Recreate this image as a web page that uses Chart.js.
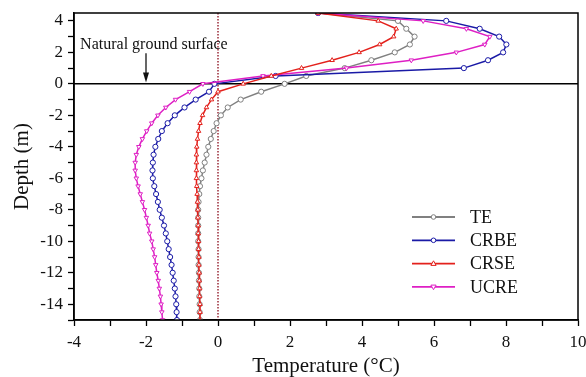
<!DOCTYPE html>
<html>
<head>
<meta charset="utf-8">
<script src="https://cdn.jsdelivr.net/npm/chart.js@4"></script>
<style>
  body { margin: 0; background: #fff; }
  #wrap { width: 586px; height: 377px; }
</style>
</head>
<body>
<div id="wrap"><canvas id="chart" width="586" height="377"></canvas></div>
<script>
// depth of each sample (m)
const depth = [4.5, 4, 3.5, 3, 2.5, 2, 1.5, 1, 0.5, 0,
  -0.5, -1, -1.5, -2, -2.5, -3, -3.5, -4, -4.5, -5,
  -5.5, -6, -6.5, -7, -7.5, -8, -8.5, -9, -9.5, -10,
  -10.5, -11, -11.5, -12, -12.5, -13, -13.5, -14, -14.5, -15];

// temperatures (°C) for each series
const te = [2.78, 5.0, 5.23, 5.46, 5.33, 4.91, 4.26, 3.52, 2.45, 1.85,
  1.2, 0.63, 0.27, 0.08, -0.04, -0.12, -0.2, -0.27, -0.32, -0.37,
  -0.42, -0.46, -0.5, -0.52, -0.54, -0.55, -0.55, -0.55, -0.55, -0.55,
  -0.54, -0.54, -0.54, -0.53, -0.53, -0.52, -0.52, -0.51, -0.51, -0.5];
const crbe = [2.78, 6.34, 7.27, 7.81, 8.01, 7.92, 7.5, 6.83, 1.6, -0.1,
  -0.25, -0.62, -0.93, -1.2, -1.4, -1.56, -1.66, -1.74, -1.79, -1.81,
  -1.82, -1.81, -1.77, -1.72, -1.67, -1.62, -1.56, -1.5, -1.45, -1.41,
  -1.37, -1.33, -1.29, -1.26, -1.23, -1.2, -1.18, -1.16, -1.15, -1.14];
const crse = [2.78, 4.45, 4.95, 4.88, 4.49, 3.92, 3.17, 2.32, 1.48, 0.7,
  0.0, -0.18, -0.32, -0.43, -0.5, -0.54, -0.57, -0.59, -0.6, -0.6,
  -0.6, -0.6, -0.59, -0.58, -0.57, -0.56, -0.56, -0.55, -0.55, -0.54,
  -0.54, -0.53, -0.53, -0.52, -0.52, -0.51, -0.51, -0.5, -0.5, -0.5];
const ucre = [2.78, 5.7, 6.9, 7.55, 7.41, 6.62, 5.37, 3.57, 1.25, -0.42,
  -0.79, -1.18, -1.45, -1.67, -1.84, -1.98, -2.1, -2.2, -2.27, -2.3,
  -2.3, -2.27, -2.22, -2.16, -2.1, -2.04, -1.99, -1.94, -1.9, -1.84,
  -1.8, -1.76, -1.73, -1.7, -1.66, -1.63, -1.6, -1.58, -1.56, -1.54];

const seriesNames = ["TE", "CRBE", "CRSE", "UCRE"];
const xTicksShown = [-4, -2, 0, 2, 4, 6, 8, 10];
const yTicksShown = [4, 2, 0, -2, -4, -6, -8, -10, -12, -14];

const SERIF = "'Liberation Serif', 'Times New Roman', serif";

function pts(temps) {
  return temps.map((t, i) => ({ x: t, y: depth[i] }));
}

const styles = [
  { color: "#808080", point: "circle", rot: 0, order: 4 },
  { color: "#1a1aa6", point: "circle", rot: 0, order: 3 },
  { color: "#e3211c", point: "triangle", rot: 0, order: 1 },
  { color: "#de1fc4", point: "triangle", rot: 180, order: 2 }
];

const datasets = [te, crbe, crse, ucre].map((arr, i) => ({
  label: seriesNames[i],
  data: pts(arr),
  showLine: true,
  order: styles[i].order,
  borderColor: styles[i].color,
  borderWidth: 1.5,
  backgroundColor: "#fff",
  pointStyle: styles[i].point,
  pointRotation: styles[i].rot,
  pointRadius: 2.6,
  pointBorderWidth: 1,
  pointBorderColor: styles[i].color,
  pointBackgroundColor: "#fff"
}));

// frame, reference lines, annotation and legend
const decor = {
  id: "decor",
  beforeDatasetsDraw(chart) {
    const { ctx, chartArea: a, scales: { x, y } } = chart;
    ctx.save();
    // horizontal line at depth 0
    const y0 = y.getPixelForValue(0);
    ctx.strokeStyle = "#000";
    ctx.lineWidth = 1.5;
    ctx.beginPath();
    ctx.moveTo(a.left, y0);
    ctx.lineTo(a.right, y0);
    ctx.stroke();
    // dotted line at 0 °C
    const x0 = x.getPixelForValue(0);
    ctx.strokeStyle = "#8b0a1a";
    ctx.lineWidth = 1.3;
    ctx.setLineDash([1.5, 1.5]);
    ctx.beginPath();
    ctx.moveTo(x0, a.top);
    ctx.lineTo(x0, a.bottom);
    ctx.stroke();
    ctx.restore();
  },
  afterDraw(chart) {
    const { ctx, chartArea: a, scales: { x, y } } = chart;
    ctx.save();
    ctx.strokeStyle = "#000";
    ctx.lineWidth = 1.5;
    ctx.strokeRect(a.left, a.top, a.right - a.left, a.bottom - a.top);

    // annotation
    ctx.fillStyle = "#111";
    ctx.font = "16px " + SERIF;
    ctx.textBaseline = "middle";
    ctx.textAlign = "left";
    ctx.fillText("Natural ground surface", x.getPixelForValue(-3.83), y.getPixelForValue(2.5));
    const ax = x.getPixelForValue(-2);
    const ay1 = y.getPixelForValue(1.94);
    const ay2 = y.getPixelForValue(0.08);
    ctx.lineWidth = 1.2;
    ctx.beginPath();
    ctx.moveTo(ax, ay1);
    ctx.lineTo(ax, ay2 - 8);
    ctx.stroke();
    ctx.beginPath();
    ctx.moveTo(ax - 3, ay2 - 10);
    ctx.lineTo(ax + 3, ay2 - 10);
    ctx.lineTo(ax, ay2);
    ctx.closePath();
    ctx.fill();

    // legend
    chart.data.datasets.forEach((ds, i) => {
      const ly = a.bottom - 103 + i * 23.3;
      const lx1 = a.right - 166, lx2 = a.right - 123;
      ctx.strokeStyle = ds.borderColor;
      ctx.lineWidth = 1.8;
      ctx.beginPath();
      ctx.moveTo(lx1, ly);
      ctx.lineTo(lx2, ly);
      ctx.stroke();
      const cx = (lx1 + lx2) / 2;
      ctx.fillStyle = "#fff";
      ctx.lineWidth = 1;
      ctx.beginPath();
      if (ds.pointStyle === "circle") {
        ctx.arc(cx, ly, 2.3, 0, Math.PI * 2);
      } else {
        const s = ds.pointRotation ? -1 : 1;
        ctx.moveTo(cx, ly - 2.8 * s);
        ctx.lineTo(cx + 2.6, ly + 1.8 * s);
        ctx.lineTo(cx - 2.6, ly + 1.8 * s);
        ctx.closePath();
      }
      ctx.fill();
      ctx.stroke();
      ctx.fillStyle = "#111";
      ctx.font = "18px " + SERIF;
      ctx.textAlign = "left";
      ctx.textBaseline = "middle";
      ctx.fillText(ds.label, a.right - 108, ly + 1);
    });
    ctx.restore();
  }
};

new Chart(document.getElementById("chart").getContext("2d"), {
  type: "scatter",
  data: { datasets: datasets },
  plugins: [decor],
  options: {
    responsive: false,
    animation: false,
    layout: { padding: { top: 13, right: 8, left: 0, bottom: 0 } },
    plugins: {
      legend: { display: false },
      tooltip: { enabled: false }
    },
    scales: {
      x: {
        type: "linear",
        min: -4,
        max: 10,
        afterFit(scale) {
          scale.height = 57;
          scale.paddingLeft = 0;
          scale.paddingRight = 0;
        },
        ticks: {
          stepSize: 1,
          includeBounds: false,
          autoSkip: false,
          maxRotation: 0,
          padding: 6,
          color: "#111",
          font: { family: SERIF, size: 17 },
          callback: (v) => xTicksShown.includes(v) ? String(v) : ""
        },
        grid: { drawOnChartArea: false, drawTicks: true, tickLength: 6, color: "#000", tickWidth: 1.3 },
        border: { display: true, color: "#000", width: 1.5 },
        title: {
          display: true,
          text: "Temperature (°C)",
          color: "#111",
          font: { family: SERIF, size: 21, lineHeight: 1 },
          padding: { top: 0, bottom: 0 }
        }
      },
      y: {
        type: "linear",
        min: -15,
        max: 4.5,
        afterFit(scale) {
          scale.width = 74;
          scale.paddingTop = 0;
          scale.paddingBottom = 0;
        },
        ticks: {
          stepSize: 1,
          includeBounds: false,
          autoSkip: false,
          padding: 5,
          color: "#111",
          font: { family: SERIF, size: 17 },
          callback: (v) => yTicksShown.includes(v) ? String(v) : ""
        },
        grid: { drawOnChartArea: false, drawTicks: true, tickLength: 6, color: "#000", tickWidth: 1.3 },
        border: { display: true, color: "#000", width: 1.5 },
        title: {
          display: true,
          text: "Depth (m)",
          color: "#111",
          font: { family: SERIF, size: 21, lineHeight: 1 },
          padding: { top: 12, bottom: 0 }
        }
      }
    }
  }
});
</script>
</body>
</html>
